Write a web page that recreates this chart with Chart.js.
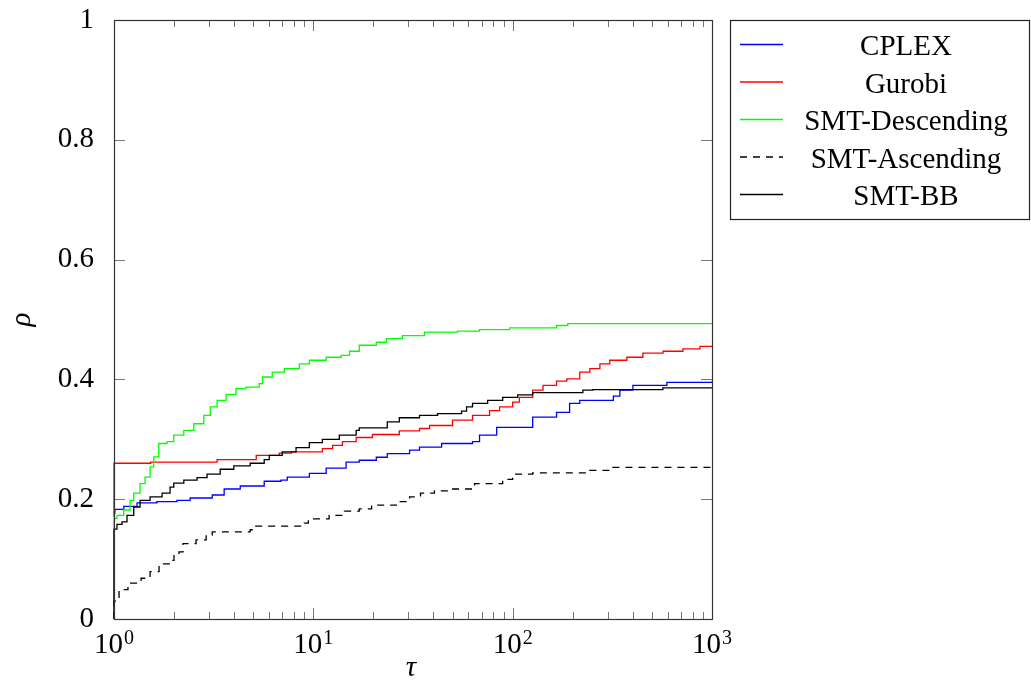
<!DOCTYPE html>
<html>
<head>
<meta charset="utf-8">
<script src="https://cdn.jsdelivr.net/npm/chart.js@4/dist/chart.umd.min.js"></script>
<style>
  html, body { margin: 0; padding: 0; background: #fff; }
  #wrap { width: 1031px; height: 687px; }
</style>
</head>
<body>
<div id="wrap"><canvas id="profile"></canvas></div>
<script>
// performance profile: rho(tau) per solver
const seriesNames = ["CPLEX", "Gurobi", "SMT-Descending", "SMT-Ascending", "SMT-BB"];

const cplexTau = [1, 1.01, 1.12, 1.305, 1.64, 2.07, 2.41, 3.11, 3.57, 4.3, 5.67, 6.88, 7.4, 9.55, 11.6, 14.6, 17.0, 20.7, 23.5, 30.4, 34.1, 44.0, 62.9, 68.2, 83.1, 126, 166, 193, 217, 320, 345, 401, 594, 1000];
const cplexRho = [0.177, 0.183, 0.188, 0.194, 0.196, 0.198, 0.202, 0.207, 0.217, 0.222, 0.23, 0.232, 0.237, 0.243, 0.252, 0.262, 0.265, 0.27, 0.276, 0.282, 0.287, 0.293, 0.296, 0.307, 0.32, 0.337, 0.345, 0.36, 0.365, 0.372, 0.382, 0.39, 0.395, 0.397];

const gurobiTau = [1, 1, 1.53, 3.29, 5.17, 6.75, 7.75, 11.1, 12.5, 14.0, 16.4, 19.8, 27.0, 34.1, 38.3, 49.9, 62.9, 76.6, 86.0, 100, 108, 126, 142, 166, 187, 217, 244, 274, 307, 374, 450, 568, 715, 871, 1000];
const gurobiRho = [0.17, 0.26, 0.262, 0.266, 0.273, 0.277, 0.279, 0.2845, 0.29, 0.296, 0.303, 0.308, 0.314, 0.318, 0.323, 0.332, 0.34, 0.348, 0.354, 0.362, 0.37, 0.382, 0.39, 0.397, 0.401, 0.412, 0.418, 0.426, 0.432, 0.437, 0.444, 0.447, 0.451, 0.455, 0.455];

const descTau = [1, 1, 1.035, 1.119, 1.204, 1.256, 1.351, 1.432, 1.517, 1.583, 1.677, 1.846, 1.995, 2.24, 2.515, 2.82, 3.04, 3.29, 3.65, 4.09, 4.59, 5.35, 5.56, 6.22, 7.15, 8.51, 9.55, 11.6, 13.8, 15.2, 17.0, 20.7, 23.3, 28.0, 36.1, 52.9, 68.2, 96.6, 166, 189, 1000];
const descRho = [0, 0.168, 0.173, 0.182, 0.198, 0.21, 0.226, 0.237, 0.254, 0.2705, 0.293, 0.296, 0.307, 0.315, 0.326, 0.34, 0.354, 0.365, 0.375, 0.3845, 0.387, 0.393, 0.404, 0.412, 0.418, 0.426, 0.432, 0.437, 0.44, 0.447, 0.457, 0.462, 0.468, 0.473, 0.479, 0.4805, 0.483, 0.486, 0.49, 0.493, 0.493];

const ascTau = [1, 1, 1.06, 1.175, 1.367, 1.517, 1.683, 1.911, 2.0, 2.12, 2.22, 2.58, 2.9, 3.11, 4.82, 4.94, 9.01, 9.44, 12.0, 14.3, 17.0, 19.6, 26.1, 30.4, 34.5, 40.5, 47.1, 64.4, 89.1, 100, 126, 244, 318, 1000];
const ascRho = [0, 0.03, 0.049, 0.06, 0.068, 0.079, 0.092, 0.098, 0.107, 0.112, 0.126, 0.132, 0.14, 0.1455, 0.149, 0.155, 0.16, 0.167, 0.173, 0.18, 0.184, 0.19, 0.196, 0.204, 0.21, 0.214, 0.217, 0.226, 0.233, 0.242, 0.244, 0.248, 0.253, 0.253];

const bbTau = [1, 1, 1.035, 1.097, 1.162, 1.256, 1.351, 1.517, 1.743, 1.911, 1.995, 2.24, 2.61, 2.93, 3.41, 3.99, 4.82, 5.67, 6.01, 6.98, 8.19, 9.55, 11.1, 13.5, 16.4, 17.0, 23.5, 27.0, 34.1, 42.0, 55.4, 58.7, 62.9, 74.9, 89.1, 106, 126, 225, 252, 567, 1000];
const bbRho = [0, 0.15, 0.158, 0.162, 0.173, 0.187, 0.198, 0.204, 0.21, 0.22, 0.227, 0.232, 0.236, 0.242, 0.25, 0.2555, 0.26, 0.266, 0.273, 0.279, 0.286, 0.2945, 0.3, 0.307, 0.315, 0.319, 0.329, 0.336, 0.34, 0.343, 0.347, 0.354, 0.36, 0.365, 0.37, 0.374, 0.378, 0.382, 0.383, 0.386, 0.386];

// axis ticks
const xMajor = [1, 10, 100, 1000];
const xExponents = ["0", "1", "2", "3"];
const yTicks = [0, 0.2, 0.4, 0.6, 0.8, 1];
const yTickLabels = ["0", "0.2", "0.4", "0.6", "0.8", "1"];

const FONT = "'Liberation Serif', 'DejaVu Serif', serif";

const pts = (tau, rho) => tau.map((t, i) => ({ x: t, y: rho[i] }));

function line(label, tau, rho, color, dash, order) {
  return {
    label,
    data: pts(tau, rho),
    borderColor: color,
    backgroundColor: color,
    borderWidth: 1.3,
    borderDash: dash,
    pointRadius: 0,
    stepped: true,
    fill: false,
    clip: 3,
    order
  };
}

// pgfplots-like frame, inward ticks, exponent labels, axis titles and boxed legend
const pgfDecor = {
  id: "pgfDecor",
  afterDatasetsDraw(chart) {
    const { ctx, chartArea: a, scales } = chart;
    const xs = scales.x, ys = scales.y;
    ctx.save();

    // ticks (inward, all four sides)
    ctx.strokeStyle = "#777";
    ctx.lineWidth = 1;
    ctx.beginPath();
    for (let d = 0; d < xMajor.length; d++) {
      const base = xMajor[d];
      const px = Math.round(xs.getPixelForValue(base)) + 0.5;
      ctx.moveTo(px, a.bottom); ctx.lineTo(px, a.bottom - 11);
      ctx.moveTo(px, a.top); ctx.lineTo(px, a.top + 11);
      if (d < xMajor.length - 1) {
        for (let m = 2; m <= 9; m++) {
          const mx = Math.round(xs.getPixelForValue(base * m)) + 0.5;
          ctx.moveTo(mx, a.bottom); ctx.lineTo(mx, a.bottom - 7);
          ctx.moveTo(mx, a.top); ctx.lineTo(mx, a.top + 7);
        }
      }
    }
    yTicks.forEach(v => {
      const py = Math.round(ys.getPixelForValue(v)) + 0.5;
      ctx.moveTo(a.left, py); ctx.lineTo(a.left + 11, py);
      ctx.moveTo(a.right, py); ctx.lineTo(a.right - 11, py);
    });
    ctx.stroke();

    // frame
    ctx.strokeStyle = "#333";
    ctx.lineWidth = 1.2;
    ctx.strokeRect(Math.round(a.left) + 0.5, Math.round(a.top) + 0.5,
      Math.round(a.right - a.left), Math.round(a.bottom - a.top));

    // x tick labels 10^k
    ctx.fillStyle = "#000";
    ctx.textBaseline = "alphabetic";
    ctx.textAlign = "left";
    xMajor.forEach((v, i) => {
      const px = xs.getPixelForValue(v);
      ctx.font = "29px " + FONT;
      const wb = ctx.measureText("10").width;
      ctx.font = "20px " + FONT;
      const we = ctx.measureText(xExponents[i]).width;
      const x0 = px - (wb + we + 1) / 2;
      ctx.font = "29px " + FONT;
      ctx.fillText("10", x0, 653);
      ctx.font = "20px " + FONT;
      ctx.fillText(xExponents[i], x0 + wb + 1, 644);
    });

    // axis titles
    ctx.font = "italic 29px " + FONT;
    ctx.textAlign = "center";
    ctx.textBaseline = "middle";
    ctx.fillText("τ", (a.left + a.right) / 2 - 2, 668);
    ctx.save();
    ctx.translate(22, (a.top + a.bottom) / 2);
    ctx.rotate(-Math.PI / 2);
    ctx.fillText("ρ", 0, 0);
    ctx.restore();

    // legend
    const lx = 730, ly = 20, lw = 299, lh = 199;
    ctx.fillStyle = "#fff";
    ctx.fillRect(lx, ly, lw, lh);
    ctx.strokeStyle = "#222";
    ctx.lineWidth = 1.2;
    ctx.strokeRect(lx + 0.5, ly + 0.5, lw, lh);
    chart.data.datasets.forEach((ds, i) => {
      const cy = ly + 24.5 + i * 37.5;
      ctx.strokeStyle = ds.borderColor;
      ctx.lineWidth = 1.3;
      ctx.setLineDash(ds.borderDash || []);
      ctx.beginPath();
      ctx.moveTo(740, cy); ctx.lineTo(783, cy);
      ctx.stroke();
      ctx.setLineDash([]);
      ctx.fillStyle = "#000";
      ctx.font = "29px " + FONT;
      ctx.textAlign = "center";
      ctx.textBaseline = "alphabetic";
      ctx.fillText(ds.label, 906, cy + 10.5);
    });

    ctx.restore();
  }
};

new Chart(document.getElementById("profile"), {
  type: "line",
  data: {
    datasets: [
      line(seriesNames[0], cplexTau, cplexRho, "#0000ff", [], 5),
      line(seriesNames[1], gurobiTau, gurobiRho, "#ff0000", [], 4),
      line(seriesNames[2], descTau, descRho, "#00ff00", [], 3),
      line(seriesNames[3], ascTau, ascRho, "#000000", [7, 6], 2),
      line(seriesNames[4], bbTau, bbRho, "#000000", [], 1)
    ]
  },
  options: {
    responsive: true,
    maintainAspectRatio: false,
    animation: false,
    layout: { padding: { left: 0, top: 20, right: 319, bottom: 0 } },
    scales: {
      x: {
        type: "logarithmic",
        min: 1,
        max: 1000,
        grid: { display: false },
        border: { display: false },
        ticks: { display: false },
        afterFit: s => { s.height = 68; s.paddingLeft = 0; s.paddingRight = 0; }
      },
      y: {
        type: "linear",
        min: 0,
        max: 1,
        grid: { display: false },
        border: { display: false },
        afterBuildTicks: s => { s.ticks = yTicks.map(v => ({ value: v })); },
        ticks: {
          padding: 12,
          color: "#000",
          font: { family: FONT, size: 29 },
          callback: (v, i) => yTickLabels[i]
        },
        afterFit: s => { s.width = 114; s.paddingTop = 0; s.paddingBottom = 0; }
      }
    },
    plugins: {
      legend: { display: false },
      tooltip: { enabled: false }
    }
  },
  plugins: [pgfDecor]
});
</script>
</body>
</html>
